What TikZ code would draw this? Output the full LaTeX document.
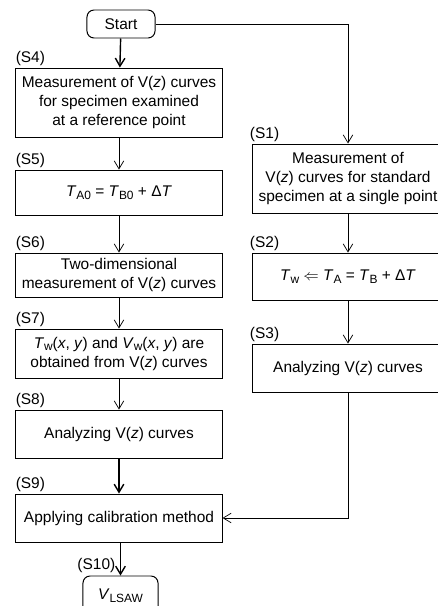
\documentclass[tikz,border=0pt]{standalone}
\usepackage{fontspec}
\setmainfont{Liberation Sans}
\usetikzlibrary{arrows.meta}

\newcommand{\ital}[1]{\textit{#1}}
\newcommand{\low}[1]{\raisebox{-0.35ex}{\fontsize{8.5}{9}\selectfont #1}}

\tikzset{
    stepbox/.style={draw, line width=0.7pt, align=center, inner sep=1pt,
        font=\fontsize{11}{13.5}\selectfont},
    endbox/.style={stepbox, rounded corners=5pt},
    steplabel/.style={anchor=south west, inner sep=1pt,
        font=\fontsize{11}{13}\selectfont},
    flow/.style={line width=0.5pt, -{Straight Barb[length=2mm, width=2.4mm]}},
    heavy/.style={flow, line width=1pt}
}

\begin{document}
\begin{tikzpicture}[x=0.025cm, y=-0.025cm]
    \useasboundingbox (0,0) rectangle (438,606);

    \node[endbox, minimum width=1.7cm, minimum height=0.7cm] (start) at (121,24) {Start};

    \node[stepbox, minimum width=5.15cm, minimum height=1.725cm] (s4) at (119,102.5)
        {Measurement of V(\ital{z}) curves\\for specimen examined\\at a reference point};
    \node[stepbox, minimum width=5.15cm, minimum height=1.125cm] (s5) at (119,192.5)
        {\ital{T}\low{A0} = \ital{T}\low{B0} + Δ\ital{T}};
    \node[stepbox, minimum width=5.15cm, minimum height=1.1cm] (s6) at (119,275)
        {Two-dimensional\\measurement of V(\ital{z}) curves};
    \node[stepbox, minimum width=5.15cm, minimum height=1.225cm] (s7) at (119,353.5)
        {\ital{T}\low{w}(\ital{x}, \ital{y}) and \ital{V}\low{w}(\ital{x}, \ital{y}) are\\obtained from V(\ital{z}) curves};
    \node[stepbox, minimum width=5.15cm, minimum height=1.2cm] (s8) at (119,434)
        {Analyzing V(\ital{z}) curves};
    \node[stepbox, minimum width=5.15cm, minimum height=1.2cm] (s9) at (119,518)
        {Applying calibration method};
    \node[endbox, minimum width=1.875cm, minimum height=1cm] (s10) at (120.5,596)
        {\ital{V}\low{LSAW}};

    \node[stepbox, minimum width=4.75cm, minimum height=1.725cm] (s1) at (348,178.5)
        {Measurement of\\V(\ital{z}) curves for standard\\specimen at a single point};
    \node[stepbox, minimum width=4.75cm, minimum height=1.175cm] (s2) at (348,276.5)
        {\ital{T}\low{w} $\Leftarrow$ \ital{T}\low{A} = \ital{T}\low{B} + Δ\ital{T}};
    \node[stepbox, minimum width=4.75cm, minimum height=1.2cm] (s3) at (348,368)
        {Analyzing V(\ital{z}) curves};

    \foreach \s in {4,5,6,7,8,9}
    {
    \node[steplabel] (l\s) at ([xshift=-1pt]s\s.north west) {(S\s)};
    }
    \foreach \s in {1,2,3}
    {
    \node[steplabel] (l\s) at ([xshift=-3pt]s\s.north west) {(S\s)};
    }
    \node[steplabel, anchor=east] (l10) at (117,565) {(S10)};

    \foreach \a/\b in {s4/s5, s5/s6, s6/s7, s7/s8, s1/s2, s2/s3}
    {
    \draw[flow] (\a) -- (\b);
    }
    \draw[heavy] (start) -- (s4);
    \draw[heavy] (s8) -- (s9);
    \draw[heavy] (s9.south -| s10.north) -- (s10);
    \draw[flow] (start.east) -| (s1.north);
    \draw[flow] (s3.south) |- (s9.east);
\end{tikzpicture}
\end{document}
